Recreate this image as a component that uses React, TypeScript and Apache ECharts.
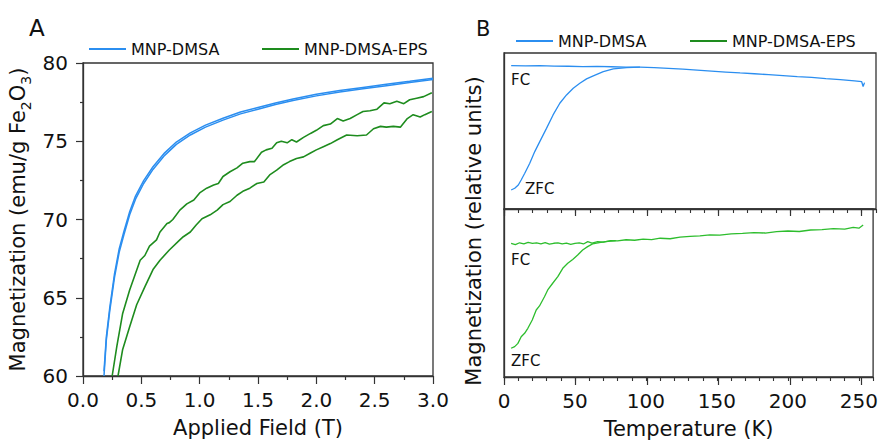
import React, { useEffect, useRef } from "react";
import * as echarts from "echarts";

// ---------- Panel A : magnetization vs applied field ----------
const blueField = [0.18, 0.2, 0.23, 0.27, 0.31, 0.35, 0.4, 0.45, 0.52, 0.6, 0.7, 0.8, 0.92, 1.05, 1.2, 1.35, 1.5, 1.65, 1.8, 2.0, 2.2, 2.4, 2.6, 2.8, 3.0];
const blueLower = [60.0, 62.3, 64.2, 66.3, 67.9, 69.0, 70.3, 71.3, 72.3, 73.2, 74.1, 74.8, 75.4, 75.9, 76.35, 76.75, 77.05, 77.35, 77.6, 77.9, 78.15, 78.35, 78.55, 78.75, 78.95];
const blueUpper = [60.3, 62.5, 64.4, 66.52, 68.12, 69.22, 70.5, 71.5, 72.48, 73.37, 74.26, 74.95, 75.54, 76.03, 76.47, 76.87, 77.16, 77.45, 77.7, 78.0, 78.24, 78.44, 78.64, 78.83, 79.03];

const greenUpField = [0.25, 0.29, 0.34, 0.4, 0.49, 0.53, 0.57, 0.63, 0.66, 0.72, 0.74, 0.77, 0.83, 0.89, 0.95, 1.0, 1.06, 1.12, 1.16, 1.2, 1.26, 1.32, 1.37, 1.43, 1.47, 1.53, 1.57, 1.62, 1.66, 1.7, 1.75, 1.79, 1.83, 1.89, 1.95, 2.0, 2.06, 2.12, 2.18, 2.23, 2.29, 2.35, 2.4, 2.46, 2.52, 2.58, 2.63, 2.69, 2.75, 2.8, 2.86, 2.92, 2.99];
const greenUp = [60.0, 61.9, 64.0, 65.5, 67.4, 67.7, 68.3, 68.7, 69.2, 69.75, 69.8, 70.0, 70.6, 71.0, 71.25, 71.7, 72.0, 72.2, 72.3, 72.75, 73.05, 73.3, 73.6, 73.7, 73.7, 74.3, 74.45, 74.55, 74.9, 75.0, 74.9, 75.1, 74.95, 75.25, 75.5, 75.7, 76.0, 76.1, 76.45, 76.3, 76.45, 76.7, 76.9, 76.95, 77.05, 77.45, 77.4, 77.55, 77.4, 77.65, 77.75, 77.85, 78.1];

const greenLowField = [0.3, 0.34, 0.4, 0.46, 0.53, 0.6, 0.66, 0.74, 0.83, 0.86, 0.92, 0.97, 1.02, 1.09, 1.15, 1.2, 1.26, 1.32, 1.37, 1.43, 1.49, 1.55, 1.6, 1.66, 1.72, 1.77, 1.83, 1.89, 1.95, 2.0, 2.06, 2.12, 2.18, 2.26, 2.35, 2.43, 2.49, 2.55, 2.6, 2.66, 2.72, 2.78, 2.83, 2.89, 2.93, 2.99];
const greenLow = [60.0, 61.7, 63.15, 64.55, 65.7, 66.8, 67.4, 68.05, 68.7, 68.9, 69.2, 69.65, 70.05, 70.3, 70.6, 70.95, 71.15, 71.55, 71.8, 72.0, 72.3, 72.4, 72.85, 73.15, 73.5, 73.7, 73.9, 74.0, 74.25, 74.45, 74.65, 74.85, 75.1, 75.4, 75.35, 75.4, 75.8, 75.95, 75.9, 75.95, 75.9, 76.45, 76.7, 76.55, 76.7, 76.9];

const fieldTicks = [0, 0.5, 1.0, 1.5, 2.0, 2.5, 3.0];
const magTicks = [60, 65, 70, 75, 80];

// ---------- Panel B : FC / ZFC vs temperature (relative units) ----------
const tempMajor = [0, 50, 100, 150, 200, 250];

const blueFcT = [5, 15, 25, 35, 45, 55, 65, 75, 85, 95, 105, 115, 125, 135, 145, 155, 165, 175, 185, 195, 205, 215, 225, 235, 245, 250, 251, 252];
const blueFc = [91.9, 91.7, 91.9, 91.6, 91.5, 91.3, 91.4, 91.2, 91.0, 90.9, 90.6, 90.2, 89.6, 89.0, 88.4, 87.8, 87.2, 86.7, 86.1, 85.5, 84.9, 84.4, 83.6, 82.9, 82.1, 81.6, 78.5, 81.0];
const blueZfcT = [5, 7.5, 10, 12, 14.5, 18, 21.5, 25, 29.7, 34.3, 39, 43.7, 48.4, 53, 57.7, 62.4, 69.4, 76.4, 85.7, 95];
const blueZfc = [12.2, 13.3, 15.4, 18.6, 22.9, 29.3, 36.8, 43.2, 51.7, 60.3, 67.8, 73.1, 77.4, 80.6, 83.4, 85.3, 88.1, 89.8, 90.6, 91.0];

const greenFcT = [5, 8, 11, 14, 17, 20, 23, 26, 29, 32, 35, 38, 41, 44, 47, 50, 53, 56, 59, 62, 66, 70, 75, 80, 86, 92, 98, 104, 110, 117, 124, 131, 138, 145, 152, 160, 168, 176, 184, 192, 200, 208, 216, 224, 232, 240, 246, 250, 253];
const greenFc = [79.6, 78.8, 79.9, 79.2, 80.1, 79.5, 79.9, 79.3, 80.0, 79.1, 79.6, 79.8, 79.2, 79.7, 79.0, 79.5, 79.9, 79.2, 80.6, 79.7, 80.6, 80.3, 81.2, 81.0, 81.7, 81.4, 82.1, 81.8, 82.6, 82.3, 83.2, 83.7, 84.0, 84.6, 84.4, 85.2, 85.5, 85.9, 85.7, 86.5, 86.9, 86.6, 87.5, 87.7, 88.3, 88.0, 89.1, 88.6, 90.5];
const greenZfcT = [5, 7.5, 9.8, 12.1, 14.5, 16.8, 19.9, 22.7, 25, 28.5, 30.8, 34.3, 37.9, 41.4, 44.9, 48.4, 51.9, 55.4, 58.9, 62.4, 67.1, 71.7, 78.7];
const greenZfc = [17.1, 18.1, 20.0, 24.0, 26.0, 29.0, 33.9, 39.9, 42.3, 47.8, 51.8, 55.8, 59.7, 64.7, 67.7, 70.0, 72.6, 75.6, 77.6, 79.2, 80.0, 80.6, 81.2];

const BLUE = "#2b8ef0";
const GREEN_A = "#1e8c1e";
const GREEN_B = "#2dbd2d";
const FRAME = "#333333";
const TXT = "#111111";
const FONT = "DejaVu Sans";

const zip = (xs: number[], ys: number[]) => xs.map((x, i) => [x, ys[i]]);

function buildOption() {
  const gridB = { left: 504, width: 372 };
  const tickFont = { fontFamily: FONT, fontSize: 20, color: TXT };
  const lineSeries = (name: string, data: number[][], color: string, width: number, xi: number, yi: number) => ({
    type: "line",
    name,
    data,
    xAxisIndex: xi,
    yAxisIndex: yi,
    symbol: "none",
    showSymbol: false,
    lineStyle: { color, width },
    itemStyle: { color },
    clip: true,
  });
  const legendBase = {
    icon: "rect",
    itemWidth: 37,
    itemHeight: 2,
    itemGap: 10,
    textStyle: { fontFamily: FONT, fontSize: 16, color: TXT },
    selectedMode: false,
  };

  return {
    animation: false,
    backgroundColor: "#ffffff",
    legend: [
      { ...legendBase, left: 84, top: 36, data: ["MNP-DMSA"] },
      { ...legendBase, left: 257, top: 36, data: ["MNP-DMSA-EPS"] },
      { ...legendBase, left: 511, top: 28, data: ["MNP-DMSA"] },
      { ...legendBase, left: 685, top: 28, data: ["MNP-DMSA-EPS"] },
    ],
    grid: [
      { left: 83, top: 63, width: 350, height: 313, show: true, borderColor: FRAME, borderWidth: 1.3, containLabel: false },
      { ...gridB, top: 53, height: 156, show: true, borderColor: FRAME, borderWidth: 1.3 },
      { ...gridB, top: 209, height: 168, show: true, borderColor: FRAME, borderWidth: 1.3 },
      { ...gridB, top: 209, height: 168, show: false },
      { ...gridB, top: 53, height: 156, show: false },
    ],
    xAxis: [
      {
        gridIndex: 0, type: "value", min: fieldTicks[0], max: fieldTicks[fieldTicks.length - 1], interval: 0.5,
        axisLine: { show: true, lineStyle: { color: FRAME, width: 1.3 } },
        axisTick: { show: true, inside: false, length: 8, lineStyle: { color: FRAME, width: 1.2 } },
        minorTick: { show: true, splitNumber: 2, length: 4, lineStyle: { color: FRAME, width: 1.2 } },
        splitLine: { show: false },
        axisLabel: { ...tickFont, margin: 14, formatter: (v: number) => v.toFixed(1) },
        name: "Applied Field (T)", nameLocation: "middle", nameGap: 41,
        nameTextStyle: { fontFamily: FONT, fontSize: 21, color: TXT },
      },
      {
        gridIndex: 1, type: "value", position: "top", min: 0, max: 260, interval: 10,
        axisLine: { show: true, lineStyle: { color: FRAME, width: 1.3 } },
        axisTick: { show: true, inside: true, length: 4, lineStyle: { color: FRAME, width: 1.1 } },
        axisLabel: { show: false },
        splitLine: { show: false },
      },
      {
        gridIndex: 2, type: "value", position: "bottom", min: 0, max: 260, interval: 10,
        axisLine: { show: true, lineStyle: { color: FRAME, width: 1.3 } },
        axisTick: { show: true, inside: false, length: 4, lineStyle: { color: FRAME, width: 1.1 } },
        axisLabel: { ...tickFont, margin: 14, interval: 0, formatter: (v: number) => (tempMajor.includes(v) ? String(v) : "") },
        splitLine: { show: false },
        name: "Temperature (K)", nameLocation: "middle", nameGap: 41,
        nameTextStyle: { fontFamily: FONT, fontSize: 21, color: TXT },
      },
      {
        gridIndex: 3, type: "value", position: "bottom", min: 0, max: 260,
        axisLine: { show: false },
        axisTick: { show: true, inside: false, length: 8, customValues: tempMajor, lineStyle: { color: FRAME, width: 1.2 } },
        axisLabel: { show: false },
        splitLine: { show: false },
      },
      {
        gridIndex: 4, type: "value", position: "top", min: 0, max: 260,
        axisLine: { show: false },
        axisTick: { show: true, inside: true, length: 7, customValues: tempMajor, lineStyle: { color: FRAME, width: 1.2 } },
        axisLabel: { show: false },
        splitLine: { show: false },
      },
    ],
    yAxis: [
      {
        gridIndex: 0, type: "value", min: magTicks[0], max: magTicks[magTicks.length - 1], interval: 5,
        axisLine: { show: true, lineStyle: { color: FRAME, width: 1.3 } },
        axisTick: { show: true, inside: false, length: 7, lineStyle: { color: FRAME, width: 1.2 } },
        minorTick: { show: true, splitNumber: 2, length: 3, lineStyle: { color: FRAME, width: 1.2 } },
        splitLine: { show: false },
        axisLabel: { ...tickFont, margin: 15 },
        name: "{n|Magnetization (emu/g Fe}{s|2}{n|O}{s|3}{n|)}",
        nameLocation: "middle",
        nameGap: 50,
        nameTextStyle: {
          fontFamily: FONT, fontSize: 21, color: TXT,
          rich: {
            n: { fontFamily: FONT, fontSize: 21, color: TXT, lineHeight: 30 },
            s: { fontFamily: FONT, fontSize: 14, color: TXT, lineHeight: 14, verticalAlign: "bottom" },
          },
        },
      },
      {
        gridIndex: 1, type: "value", min: 0, max: 100,
        axisLine: { show: true, lineStyle: { color: FRAME, width: 1.3 } },
        axisTick: { show: false }, axisLabel: { show: false }, splitLine: { show: false },
      },
      {
        gridIndex: 2, type: "value", min: 0, max: 100,
        axisLine: { show: true, lineStyle: { color: FRAME, width: 1.3 } },
        axisTick: { show: false }, axisLabel: { show: false }, splitLine: { show: false },
      },
      { gridIndex: 3, type: "value", min: 0, max: 100, show: false },
      { gridIndex: 4, type: "value", min: 0, max: 100, show: false },
    ],
    series: [
      lineSeries("MNP-DMSA", zip(blueField, blueUpper), BLUE, 1.5, 0, 0),
      lineSeries("MNP-DMSA", zip(blueField, blueLower), BLUE, 1.5, 0, 0),
      lineSeries("MNP-DMSA-EPS", zip(greenUpField, greenUp), GREEN_A, 1.6, 0, 0),
      lineSeries("MNP-DMSA-EPS", zip(greenLowField, greenLow), GREEN_A, 1.6, 0, 0),
      lineSeries("MNP-DMSA", zip(blueFcT, blueFc), BLUE, 1.3, 1, 1),
      lineSeries("MNP-DMSA", zip(blueZfcT, blueZfc), BLUE, 1.3, 1, 1),
      lineSeries("MNP-DMSA-EPS", zip(greenFcT, greenFc), GREEN_B, 1.3, 2, 2),
      lineSeries("MNP-DMSA-EPS", zip(greenZfcT, greenZfc), GREEN_B, 1.3, 2, 2),
    ],
    graphic: [
      { type: "text", x: 29, y: 28, style: { text: "A", font: `23px "${FONT}"`, fill: TXT, textAlign: "left", textVerticalAlign: "middle" } },
      { type: "text", x: 476, y: 29, style: { text: "B", font: `21px "${FONT}"`, fill: TXT, textAlign: "left", textVerticalAlign: "middle" } },
      { type: "text", x: 511, y: 80, style: { text: "FC", font: `15px "${FONT}"`, fill: TXT, textAlign: "left", textVerticalAlign: "middle" } },
      { type: "text", x: 525, y: 189, style: { text: "ZFC", font: `15px "${FONT}"`, fill: TXT, textAlign: "left", textVerticalAlign: "middle" } },
      { type: "text", x: 511, y: 260, style: { text: "FC", font: `15px "${FONT}"`, fill: TXT, textAlign: "left", textVerticalAlign: "middle" } },
      { type: "text", x: 511, y: 361, style: { text: "ZFC", font: `15px "${FONT}"`, fill: TXT, textAlign: "left", textVerticalAlign: "middle" } },
      {
        type: "text", x: 474, y: 231, rotation: Math.PI / 2,
        style: { text: "Magnetization (relative units)", font: `21px "${FONT}"`, fill: TXT, textAlign: "center", textVerticalAlign: "middle" },
      },
    ],
  };
}

export default function App() {
  const ref = useRef<HTMLDivElement>(null);
  useEffect(() => {
    if (!ref.current) return;
    const chart = echarts.init(ref.current, null, { renderer: "svg" });
    chart.setOption(buildOption() as any);
    return () => chart.dispose();
  }, []);
  return (
    <div
      ref={ref}
      style={{ position: "fixed", left: 0, top: 0, width: 881, height: 444, background: "#ffffff" }}
    />
  );
}
